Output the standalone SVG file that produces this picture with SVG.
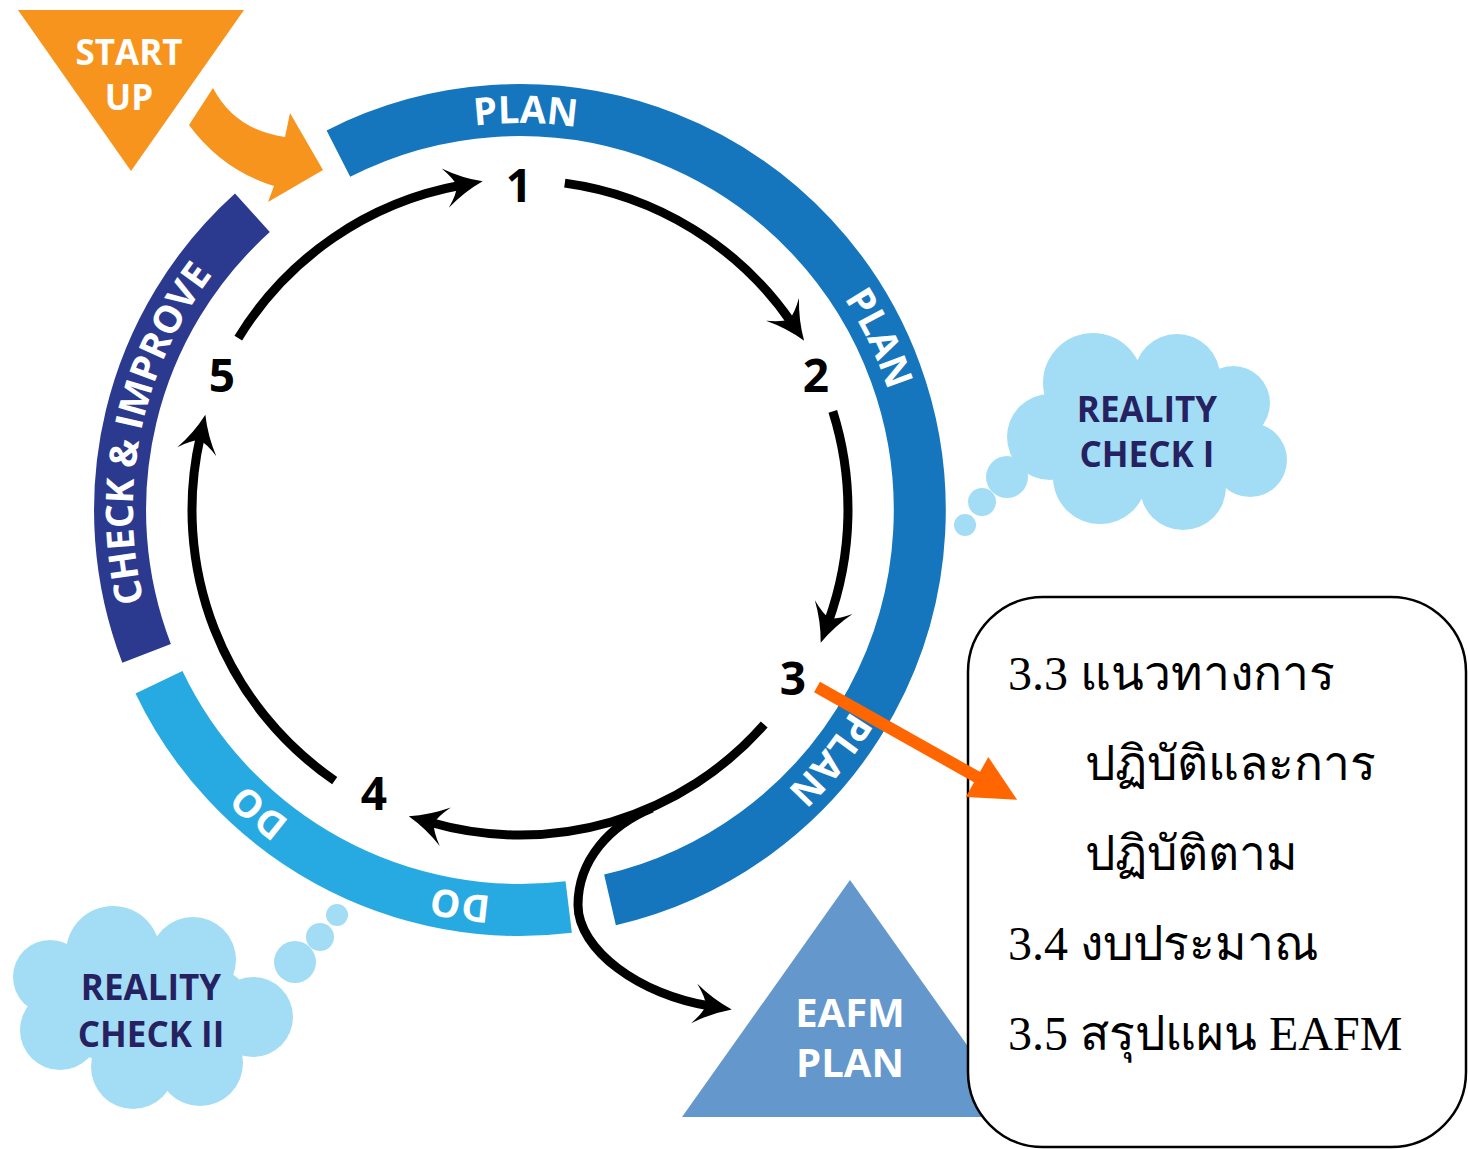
<svg xmlns="http://www.w3.org/2000/svg" width="1468" height="1149" viewBox="0 0 1468 1149">
<style>
.ring{fill:none;stroke-width:52;stroke-linecap:butt}
.ringtxt{font-family:"Open Sans","Liberation Sans",sans-serif;font-weight:700;font-size:38px;fill:#fff}
.num{font-family:"Open Sans","Liberation Sans",sans-serif;font-weight:700;font-size:46px;fill:#000;text-anchor:middle}
.arr{fill:none;stroke:#000;stroke-width:9;stroke-linecap:butt}
.cloud{fill:#A3DDF5}
.ctxt{font-family:"Open Sans","Liberation Sans",sans-serif;font-weight:700;font-size:35px;fill:#262262;text-anchor:middle}
.wtxt{font-family:"Open Sans","Liberation Sans",sans-serif;font-weight:700;fill:#fff;text-anchor:middle}
.thai{font-family:"Liberation Serif","DejaVu Serif",serif;font-size:48px;fill:#000}
</style>
<defs>
<marker id="bh" markerUnits="userSpaceOnUse" markerWidth="80" markerHeight="80" refX="0" refY="0" orient="auto" overflow="visible" viewBox="-40 -40 80 80">
<path d="M22,0 Q2,-7 -16,-20 Q-6,-8 -4,0 Q-6,8 -16,20 Q2,7 22,0 Z" fill="#000"/>
</marker>
<marker id="oh" markerUnits="userSpaceOnUse" markerWidth="100" markerHeight="100" refX="0" refY="0" orient="auto" overflow="visible" viewBox="-50 -50 100 100">
<path d="M38,0 L-8,-23 L-8,23 Z" fill="#FF6600"/>
</marker>
<path id="tc" d="M907,510 A387,387 0 1 1 133,510 A387,387 0 1 1 907,510"/>
</defs>

<g id="start-up">
<polygon points="18,10 244,10 131,171" fill="#F7941D"/>
<text class="wtxt" x="129" y="65" font-size="35">START</text>
<text class="wtxt" x="129" y="110" font-size="35">UP</text>
</g>

<g id="ring-plan">
<path class="ring" stroke="#1576BD" d="M338.4,153.6 A400,400 0 1 1 610.0,899.8"/>
<text class="ringtxt"><textPath href="#tc" startOffset="1828.5" text-anchor="middle">PLAN</textPath></text>
<text class="ringtxt"><textPath href="#tc" startOffset="2258" text-anchor="middle">PLAN</textPath></text>
<text class="ringtxt"><textPath href="#tc" startOffset="262" text-anchor="middle">PLAN</textPath></text>
</g>
<g id="ring-do">
<path class="ring" stroke="#27AAE1" d="M568.7,907.0 A400,400 0 0 1 159.0,682.2"/>
<text class="ringtxt"><textPath href="#tc" startOffset="666" text-anchor="middle">DO</textPath></text>
<text class="ringtxt"><textPath href="#tc" startOffset="883" text-anchor="middle">DO</textPath></text>
</g>
<g id="ring-check">
<path class="ring" stroke="#2B3A8F" d="M146.6,653.4 A400,400 0 0 1 252.4,212.8"/>
<text class="ringtxt" font-size="37"><textPath href="#tc" startOffset="1295.5" text-anchor="middle">CHECK &amp; IMPROVE</textPath></text>
</g>

<g id="step-1"><text class="num" x="519" y="202">1</text></g>
<g id="step-2"><text class="num" x="816" y="392">2</text></g>
<g id="step-3"><text class="num" x="793" y="695">3</text></g>
<g id="step-4"><text class="num" x="374" y="810">4</text></g>
<g id="step-5"><text class="num" x="222" y="392">5</text></g>

<g id="reality-check-1">
<circle class="cloud" cx="1093" cy="383" r="50"/>
<circle class="cloud" cx="1177" cy="377" r="43"/>
<circle class="cloud" cx="1233" cy="403" r="37"/>
<circle class="cloud" cx="1250" cy="460" r="37"/>
<circle class="cloud" cx="1183" cy="487" r="43"/>
<circle class="cloud" cx="1100" cy="477" r="47"/>
<circle class="cloud" cx="1050" cy="437" r="43"/>
<ellipse class="cloud" cx="1150" cy="432" rx="95" ry="62"/>
<circle class="cloud" cx="1007" cy="477" r="21"/>
<circle class="cloud" cx="982" cy="502" r="14"/>
<circle class="cloud" cx="965" cy="525" r="11"/>
<text class="ctxt" x="1147" y="422">REALITY</text>
<text class="ctxt" x="1147" y="467">CHECK I</text>
</g>

<g id="reality-check-2">
<circle class="cloud" cx="50" cy="977" r="37"/>
<circle class="cloud" cx="113" cy="953" r="47"/>
<circle class="cloud" cx="193" cy="960" r="43"/>
<circle class="cloud" cx="253" cy="1017" r="40"/>
<circle class="cloud" cx="200" cy="1063" r="43"/>
<circle class="cloud" cx="133" cy="1067" r="42"/>
<circle class="cloud" cx="60" cy="1030" r="40"/>
<ellipse class="cloud" cx="150" cy="1010" rx="105" ry="58"/>
<circle class="cloud" cx="295" cy="962" r="21"/>
<circle class="cloud" cx="320" cy="937" r="14"/>
<circle class="cloud" cx="337" cy="915" r="11"/>
<text class="ctxt" x="151" y="1000">REALITY</text>
<text class="ctxt" x="151" y="1047">CHECK II</text>
</g>

<g id="eafm-plan">
<polygon points="850,880 682,1117 1018,1117" fill="#6497CC"/>
<text class="wtxt" x="850" y="1027" font-size="40">EAFM</text>
<text class="wtxt" x="850" y="1077" font-size="40">PLAN</text>
</g>

<g id="detail-box">
<rect x="968" y="597" width="498" height="550" rx="75" ry="75" fill="#fff" stroke="#000" stroke-width="2.5"/>
<text class="thai" x="1008" y="690">3.3 แนวทางการ</text>
<text class="thai" x="1085" y="780">ปฏิบัติและการ</text>
<text class="thai" x="1085" y="870">ปฏิบัติตาม</text>
<text class="thai" x="1008" y="960">3.4 งบประมาณ</text>
<text class="thai" x="1008" y="1050">3.5 สรุปแผน EAFM</text>
</g>

<g id="connectors">
<path d="M213,88 Q235,130 285,137 L290,113 L323,170 L268,202 L274,186 Q222,170 189,125 Z" fill="#F7941D"/>
<path class="arr" marker-end="url(#bh)" d="M564.8,183.1 A330,330 0 0 1 791.6,322.6"/>
<path class="arr" marker-end="url(#bh)" d="M832.8,411.4 A328,328 0 0 1 828.2,622.2"/>
<path class="arr" marker-end="url(#bh)" d="M764.2,724.5 A325,325 0 0 1 429.9,822.3"/>
<path class="arr" marker-end="url(#bh)" d="M334.7,780.6 A328,328 0 0 1 200.4,436.2"/>
<path class="arr" marker-end="url(#bh)" d="M238.3,338.1 A330,330 0 0 1 461.0,185.3"/>
<path class="arr" marker-end="url(#bh)" d="M652,808 C610,825 578,860 578,905 C578,950 640,995 710,1006"/>
<path d="M817,687 L984,781" stroke="#FF6600" stroke-width="12" fill="none" marker-end="url(#oh)"/>
</g>
</svg>
